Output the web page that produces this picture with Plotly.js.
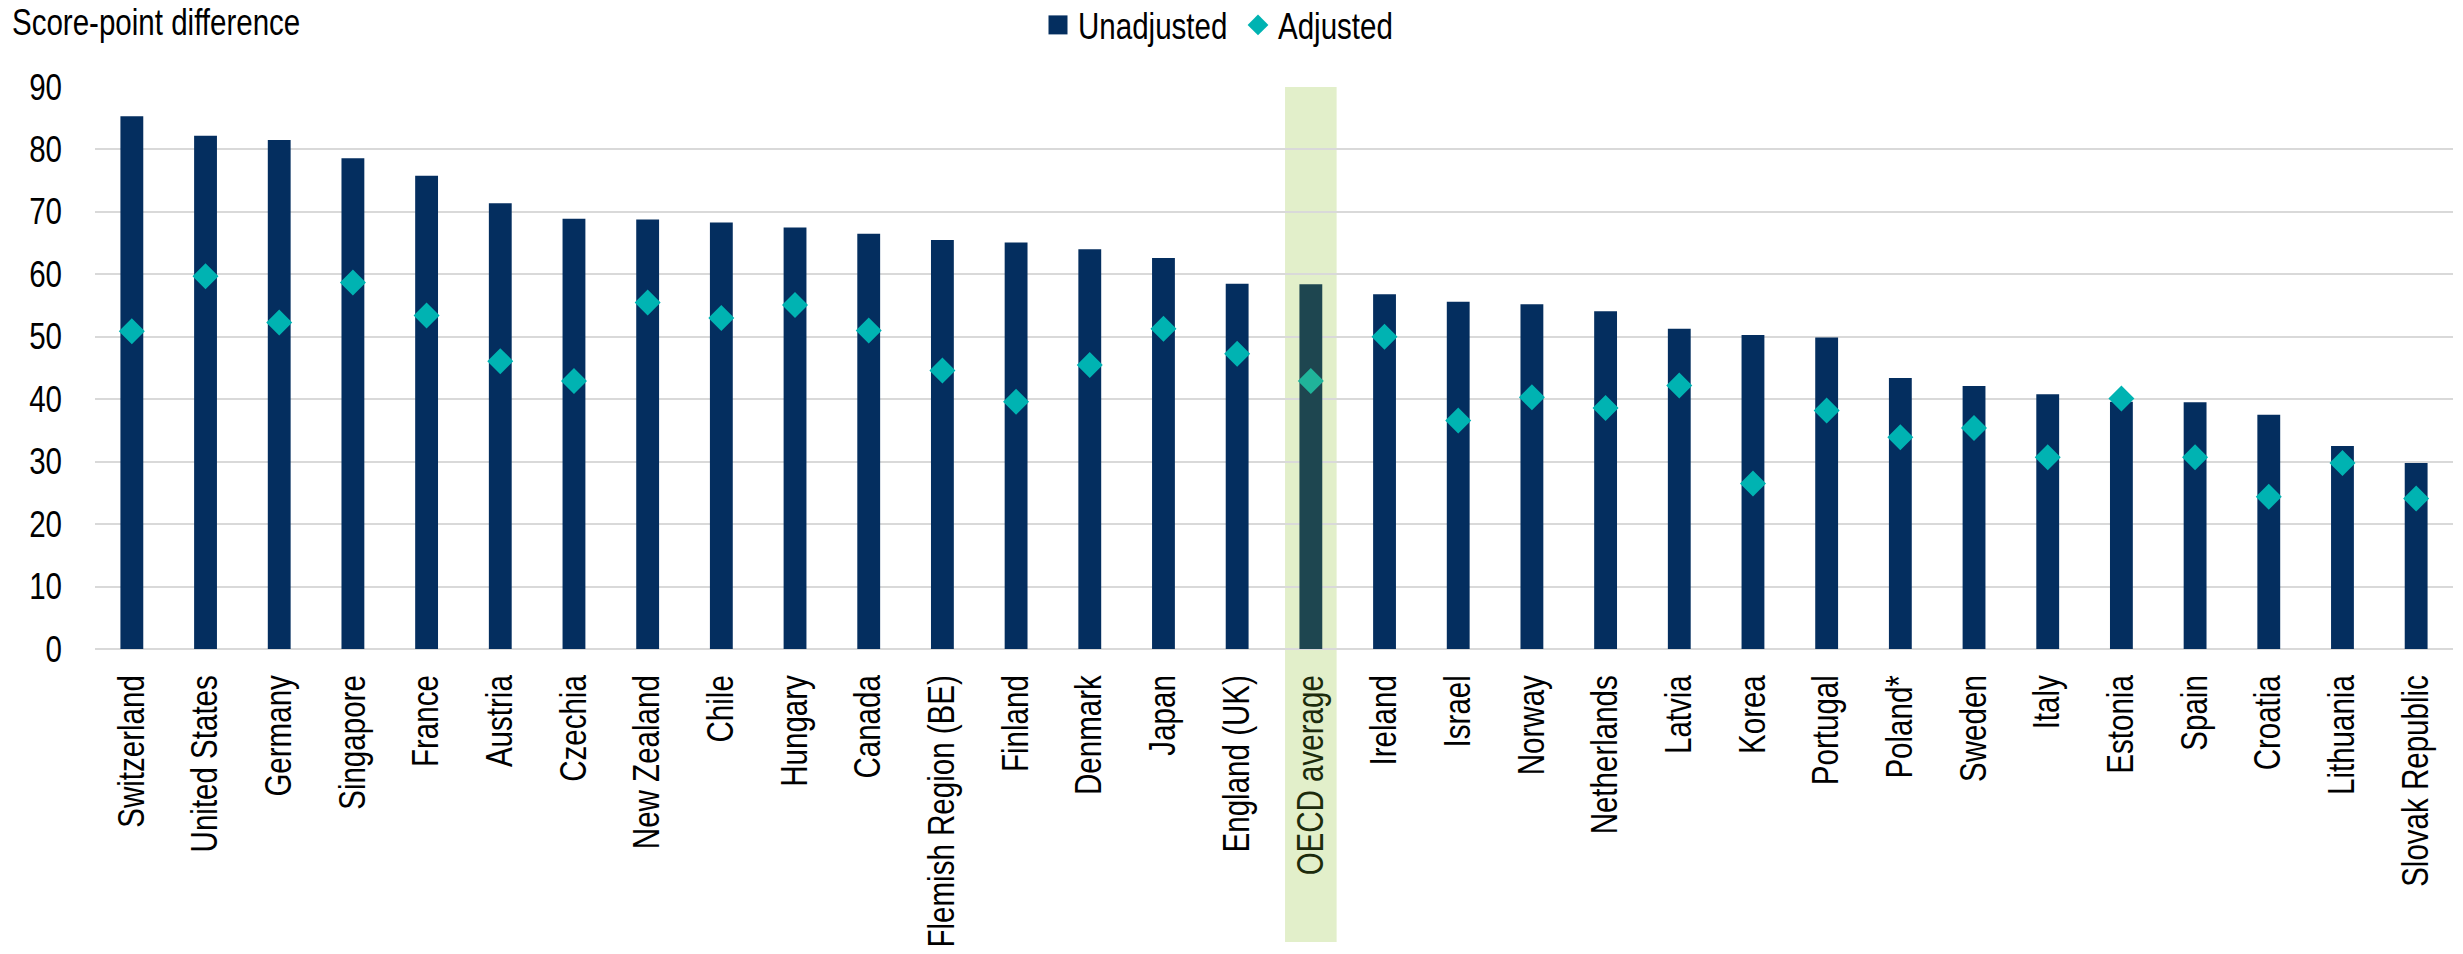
<!DOCTYPE html>
<html>
<head>
<meta charset="utf-8">
<script src="https://cdn.plot.ly/plotly-3.0.1.min.js"></script>
<style>
  html, body { margin: 0; padding: 0; background: #ffffff; }
  #chart { width: 2463px; height: 954px; }
</style>
</head>
<body>
<div id="chart"></div>
<script>
// Score-point difference by country, before and after adjustment
const categories = [
  "Switzerland", "United States", "Germany", "Singapore", "France", "Austria",
  "Czechia", "New Zealand", "Chile", "Hungary", "Canada", "Flemish Region (BE)",
  "Finland", "Denmark", "Japan", "England (UK)", "OECD average", "Ireland",
  "Israel", "Norway", "Netherlands", "Latvia", "Korea", "Portugal", "Poland*",
  "Sweden", "Italy", "Estonia", "Spain", "Croatia", "Lithuania", "Slovak Republic"
];
const unadjusted = [
  85.3, 82.2, 81.5, 78.6, 75.8, 71.4, 68.9, 68.8, 68.3, 67.5, 66.5, 65.5,
  65.1, 64.0, 62.6, 58.5, 58.4, 56.8, 55.6, 55.2, 54.1, 51.3, 50.3, 49.9,
  43.4, 42.1, 40.8, 39.6, 39.5, 37.5, 32.5, 29.8
];
const adjusted = [
  50.9, 59.7, 52.3, 58.7, 53.4, 46.1, 42.9, 55.5, 53.0, 55.1, 51.0, 44.6,
  39.6, 45.5, 51.3, 47.3, 42.9, 50.0, 36.6, 40.3, 38.6, 42.2, 26.5, 38.2,
  33.9, 35.4, 30.7, 40.1, 30.7, 24.4, 29.8, 24.1
];
const yTicks = [0, 10, 20, 30, 40, 50, 60, 70, 80, 90];
const highlight = "OECD average";

const FONT = "'Liberation Sans', Arial, sans-serif";
const FONT_SIZE = 36;
const CONDENSE = 0.82;   // narrow letterforms
const NAVY = "#042e5f";
const TEAL = "#00b3b2";
const NAVY_HL = "#1e4650";
const TEAL_HL = "#20b49a";
const TEXT_HL = "#1c2b0c";
const BAND = "#e2efca";

const hlIndex = categories.indexOf(highlight);
const barColors = categories.map(c => c === highlight ? NAVY_HL : NAVY);
const dotColors = categories.map(c => c === highlight ? TEAL_HL : TEAL);
const tickLabels = categories.map(c =>
  c === highlight ? `<span style="color:${TEXT_HL}">${c}</span>` : c);

const traces = [
  {
    type: "bar",
    name: "Unadjusted",
    x: categories,
    y: unadjusted,
    marker: { color: barColors, line: { width: 0 } },
    hoverinfo: "x+y"
  },
  {
    type: "scatter",
    mode: "markers",
    name: "Adjusted",
    x: categories,
    y: adjusted,
    marker: { symbol: "diamond", size: 20, color: dotColors, line: { width: 0 } },
    hoverinfo: "x+y"
  }
];

const W = 2463, H = 954;
const plotLeft = 95, plotRight = 2453;
const plotTop = 87, plotBottom = 649;
const plotW = plotRight - plotLeft;
const plotH = plotBottom - plotTop;

const layout = {
  width: W,
  height: H,
  margin: { l: plotLeft, r: W - plotRight, t: plotTop, b: H - plotBottom, pad: 0, autoexpand: false },
  paper_bgcolor: "#ffffff",
  plot_bgcolor: "rgba(0,0,0,0)",
  font: { family: FONT, size: FONT_SIZE, color: "#000000" },
  bargap: 0.69,
  showlegend: true,
  title: {
    text: "Score-point difference",
    font: { family: FONT, size: FONT_SIZE, color: "#000000" },
    xref: "container", x: 12 / W, xanchor: "left",
    yref: "container", y: 1 - 22 / H, yanchor: "middle"
  },
  legend: {
    orientation: "h",
    xref: "container", x: 1038 / W, xanchor: "left",
    yref: "container", y: 1 - 25 / H, yanchor: "middle",
    font: { family: FONT, size: FONT_SIZE, color: "#000000" },
    bgcolor: "rgba(0,0,0,0)",
    itemwidth: 30,
    entrywidth: 155,
    entrywidthmode: "pixels",
    tracegroupgap: 0
  },
  xaxis: {
    type: "category",
    range: [-0.5, categories.length - 0.5],
    tickmode: "array",
    tickvals: categories,
    ticktext: tickLabels,
    tickangle: -90,
    tickfont: { family: FONT, size: FONT_SIZE, color: "#000000" },
    ticks: "",
    ticklabelstandoff: 18,
    showgrid: false,
    showline: false,
    zeroline: false,
    fixedrange: true
  },
  yaxis: {
    range: [0, 90],
    tickvals: yTicks,
    ticktext: yTicks.map(String),
    tickfont: { family: FONT, size: FONT_SIZE, color: "#000000" },
    ticks: "",
    ticklabelstandoff: 32,
    showgrid: true,
    gridcolor: "#d9d9d9",
    gridwidth: 2,
    zeroline: true,
    zerolinecolor: "#d9d9d9",
    zerolinewidth: 2,
    showline: false,
    fixedrange: true
  },
  shapes: [
    {
      type: "rect",
      layer: "below",
      xref: "x", x0: hlIndex - 0.35, x1: hlIndex + 0.35,
      yref: "paper", y0: -(942 - plotBottom) / plotH, y1: 1,
      fillcolor: BAND,
      line: { width: 0 }
    }
  ]
};

// squeeze every label horizontally along its own baseline
function condenseText(gd, factor) {
  gd.querySelectorAll("svg text").forEach(t => {
    const len = t.getComputedTextLength();
    if (len > 0) {
      t.setAttribute("textLength", (len * factor).toFixed(2));
      t.setAttribute("lengthAdjust", "spacingAndGlyphs");
    }
  });
}

// square legend swatch for the bar series, sized like the text
function enlargeBarSwatch(gd, side) {
  const entry = gd.querySelector(".legend .traces");
  if (!entry) return;
  entry.querySelectorAll(".legendpoints path").forEach(p => {
    const b = p.getBBox();
    if (!b.width && !b.height) return;
    const cx = b.x + b.width / 2, cy = b.y + b.height / 2, h = side / 2;
    p.setAttribute("d", `M${cx - h},${cy - h}H${cx + h}V${cy + h}H${cx - h}Z`);
  });
}

Plotly.newPlot("chart", traces, layout, { displayModeBar: false, staticPlot: true }).then(gd => {
  enlargeBarSwatch(gd, 19);
  condenseText(gd, CONDENSE);
});
</script>
</body>
</html>
